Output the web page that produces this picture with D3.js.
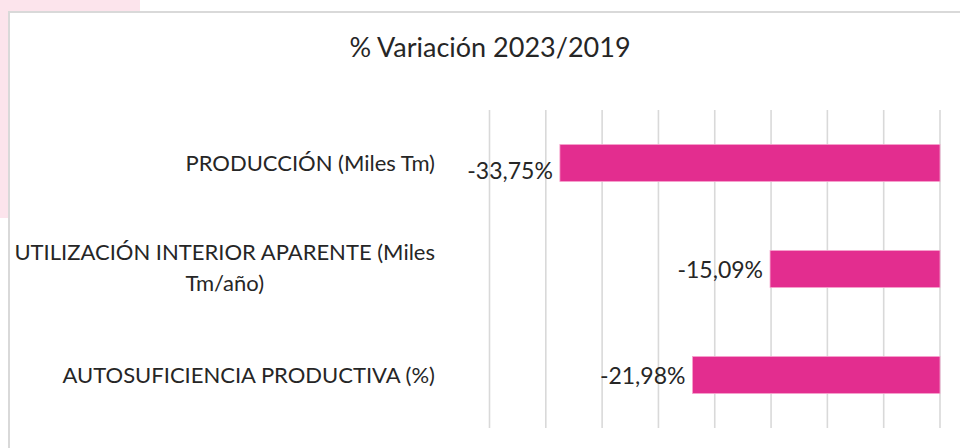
<!DOCTYPE html>
<html>
<head>
<meta charset="utf-8">
<style>
  html, body { margin: 0; padding: 0; background: #fff; }
  svg { display: block; font-family: Lato, "Open Sans", sans-serif; }
</style>
</head>
<body>
<div id="chart"></div>
<script src="https://d3js.org/d3.v7.min.js"></script>
<script>
// data
const titleText = '% Variación 2023/2019';
const categories = ['PRODUCCIÓN (Miles Tm)', 'UTILIZACIÓN INTERIOR APARENTE (Miles Tm/año)', 'AUTOSUFICIENCIA PRODUCTIVA (%)'];
const labelLines = [
    ['PRODUCCIÓN (Miles Tm)'],
    ['UTILIZACIÓN INTERIOR APARENTE (Miles', 'Tm/año)'],
    ['AUTOSUFICIENCIA PRODUCTIVA (%)']
];
const values = [-33.75, -15.09, -21.98];
const valueLabels = ['-33,75%', '-15,09%', '-21,98%'];
const xTicks = [-40, -35, -30, -25, -20, -15, -10, -5, 0];

const width = 960;
const height = 448;
const pink = '#e32d8f';

const svg = d3.select('#chart')
    .append('svg')
    .attr('width', width)
    .attr('height', height)
    .attr('viewBox', [0, 0, width, height]);

// pink page behind the chart frame
svg.append('rect').attr('x', 0).attr('y', 0).attr('width', 140).attr('height', 12).attr('fill', '#fce4ec');
svg.append('rect').attr('x', 0).attr('y', 0).attr('width', 9).attr('height', 218).attr('fill', '#fce4ec');

// chart frame
svg.append('rect')
    .attr('x', 9).attr('y', 12)
    .attr('width', 980).attr('height', 460)
    .attr('fill', '#fff')
    .attr('stroke', '#d9d9d9')
    .attr('stroke-width', 2);

const x = d3.scaleLinear()
    .domain([-40, 0])
    .range([489.5, 940]);

const y = d3.scaleBand()
    .domain(categories)
    .range([110, 428])
    .paddingInner(0.65)
    .paddingOuter(0.325);

// gridlines
svg.append('g')
    .selectAll('line')
    .data(xTicks)
    .join('line')
    .attr('x1', d => x(d))
    .attr('x2', d => x(d))
    .attr('y1', 110)
    .attr('y2', 428)
    .attr('stroke', '#d9d9d9')
    .attr('stroke-width', 1.6);

// bars
svg.append('g')
    .selectAll('rect')
    .data(values)
    .join('rect')
    .attr('x', d => x(d))
    .attr('y', (d, i) => y(categories[i]))
    .attr('width', d => x(0) - x(d))
    .attr('height', y.bandwidth())
    .attr('fill', pink)
    .attr('stroke', '#f7a6cf')
    .attr('stroke-width', 0.8);

// value labels (the first one sits a bit low in the original)
svg.append('g')
    .selectAll('text')
    .data(values)
    .join('text')
    .attr('x', d => x(d) - 7)
    .attr('y', (d, i) => y(categories[i]) + y.bandwidth() / 2 + (i === 0 ? 8 : 1))
    .attr('dy', '0.35em')
    .attr('text-anchor', 'end')
    .attr('font-size', 23)
    .attr('fill', '#262626')
    .text((d, i) => valueLabels[i]);

// category labels, right edge of widest line at 435
const labelRight = 435;
const lineGap = 31;
const catG = svg.append('g');
labelLines.forEach((lines, i) => {
    const cy = y(categories[i]) + y.bandwidth() / 2 - (lines.length > 1 ? 1.5 : 0);
    const t = catG.append('text')
        .attr('font-size', 22)
        .attr('fill', '#262626')
        .attr('text-anchor', 'middle');
    lines.forEach((ln, j) => {
        t.append('tspan')
            .attr('y', cy + (j - (lines.length - 1) / 2) * lineGap)
            .attr('dy', '0.35em')
            .text(ln);
    });
    const w = d3.max(t.selectAll('tspan').nodes(), n => n.getComputedTextLength());
    t.selectAll('tspan').attr('x', labelRight - w / 2);
});

// title
svg.append('text')
    .attr('x', 490)
    .attr('y', 47.5)
    .attr('dy', '0.35em')
    .attr('text-anchor', 'middle')
    .attr('font-size', 27)
    .attr('fill', '#262626')
    .text(titleText);
</script>
</body>
</html>
